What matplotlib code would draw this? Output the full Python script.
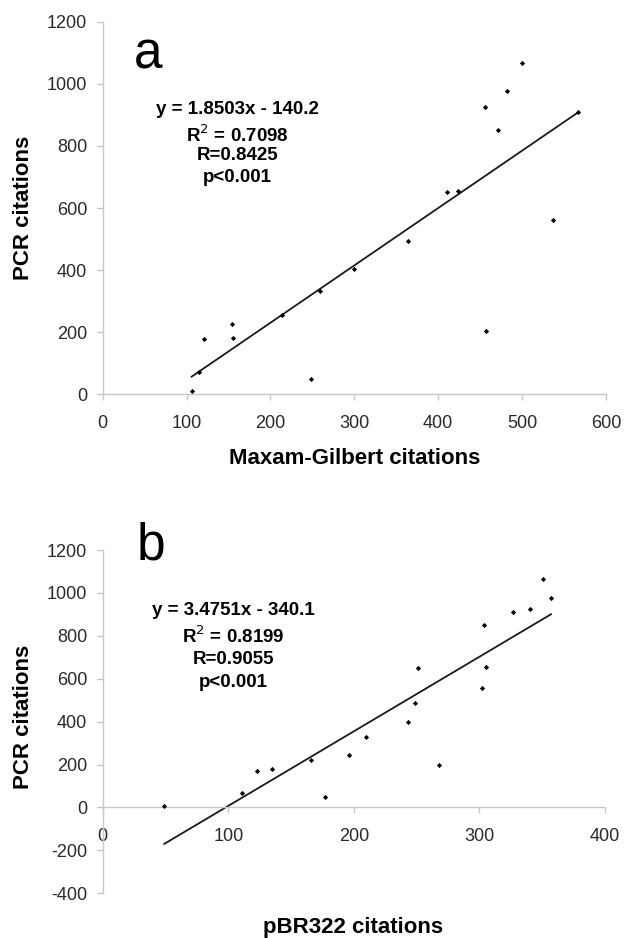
import matplotlib
matplotlib.use("Agg")
import matplotlib.pyplot as plt
import numpy as np

plt.rcParams['font.family'] = ['Liberation Sans', 'DejaVu Sans']
plt.rcParams['axes.unicode_minus'] = False

# Panel a: Maxam-Gilbert vs PCR
mg_x = [106, 115, 121, 154, 155, 214, 248, 259, 300, 364, 411, 424, 457, 537,
        500, 482, 456, 471, 567]
mg_y = [10, 72, 176, 227, 182, 255, 49, 332, 403, 494, 652, 656, 204, 561,
        1067, 978, 926, 853, 911]
a_slope, a_inter = 1.8503, -140.2
a_text = ["y = 1.8503x - 140.2", "R$^{2}$ = 0.7098", "R=0.8425", "p<0.001"]

# Panel b: pBR322 vs PCR
pb_x = [49, 111, 123, 135, 166, 177, 196, 210, 243, 249, 268, 302, 251, 305,
        304, 327, 340, 351, 357]
pb_y = [5, 67, 172, 178, 223, 47, 246, 327, 397, 488, 200, 558, 650, 653,
        851, 909, 926, 1066, 976]
b_slope, b_inter = 3.4751, -340.1
b_text = ["y = 3.4751x - 340.1", "R$^{2}$ = 0.8199", "R=0.9055", "p<0.001"]

a_xticks = [0, 100, 200, 300, 400, 500, 600]
a_yticks = [0, 200, 400, 600, 800, 1000, 1200]
b_xticks = [0, 100, 200, 300, 400]
b_yticks = [-400, -200, 0, 200, 400, 600, 800, 1000, 1200]

W, H = 624, 938
fig = plt.figure(figsize=(W / 100, H / 100), dpi=100)

spine_c = '#c8c8c8'
tick_c = '#2a2a2a'


def fx(px):
    return px / W


def fy(py):
    return 1 - py / H


def style(ax):
    for s in ['top', 'right']:
        ax.spines[s].set_visible(False)
    for s in ['left', 'bottom']:
        ax.spines[s].set_color(spine_c)
        ax.spines[s].set_linewidth(1.0)
    ax.tick_params(axis='both', colors=spine_c, labelcolor=tick_c,
                   labelsize=13, length=4.3, width=1.0, direction='out')
    ax.tick_params(axis='y', pad=7)
    ax.tick_params(axis='x', pad=10.5)


# ---- Panel a ----
ax1 = fig.add_axes([fx(102.7), fy(394), (606 - 102.7) / W, (394 - 22) / H])
style(ax1)
ax1.set_xlim(0, 600)
ax1.set_ylim(0, 1200)
ax1.set_xticks(a_xticks)
ax1.set_yticks(a_yticks)
ax1.scatter(mg_x, mg_y, marker='D', s=7, color='black', zorder=3, linewidths=0)
xs = np.array([min(mg_x), max(mg_x)])
ax1.plot(xs, a_slope * xs + a_inter, color='#1a1a1a', lw=1.3, zorder=2)
fig.text(fx(148.3), fy(68.3), 'a', fontsize=37, ha='center', va='baseline')
a_lines_y = [110, 135, 156, 177]
for t, yy in zip(a_text, a_lines_y):
    fig.text(fx(237.5), fy(yy), t, fontsize=13.5, fontweight='bold',
             ha='center', va='center')
fig.text(fx(354.3), fy(464.3), 'Maxam-Gilbert citations', fontsize=16,
         fontweight='bold', ha='center', va='baseline')
fig.text(fx(24), fy(208), 'PCR citations', fontsize=16, fontweight='bold',
         ha='center', va='center', rotation=90)

# ---- Panel b ----
ax2 = fig.add_axes([fx(102.7), fy(893.3), (605 - 102.7) / W, (893.3 - 550) / H])
style(ax2)
ax2.set_xlim(0, 400)
ax2.set_ylim(-400, 1200)
ax2.spines['bottom'].set_position(('data', 0))
ax2.set_xticks(b_xticks)
ax2.set_yticks(b_yticks)
ax2.scatter(pb_x, pb_y, marker='D', s=7, color='black', zorder=3, linewidths=0)
xs = np.array([min(pb_x), max(pb_x)])
ax2.plot(xs, b_slope * xs + b_inter, color='#1a1a1a', lw=1.3, zorder=2)
fig.text(fx(150.8), fy(560), 'b', fontsize=37, ha='center', va='baseline')
b_lines_y = [610.7, 636, 659.3, 682.3]
for t, yy in zip(b_text, b_lines_y):
    fig.text(fx(233.3), fy(yy), t, fontsize=13.5, fontweight='bold',
             ha='center', va='center')
fig.text(fx(353), fy(932.5), 'pBR322 citations', fontsize=16,
         fontweight='bold', ha='center', va='baseline')
fig.text(fx(24), fy(716.7), 'PCR citations', fontsize=16, fontweight='bold',
         ha='center', va='center', rotation=90)

fig.savefig('out.png', dpi=100, facecolor='white')
